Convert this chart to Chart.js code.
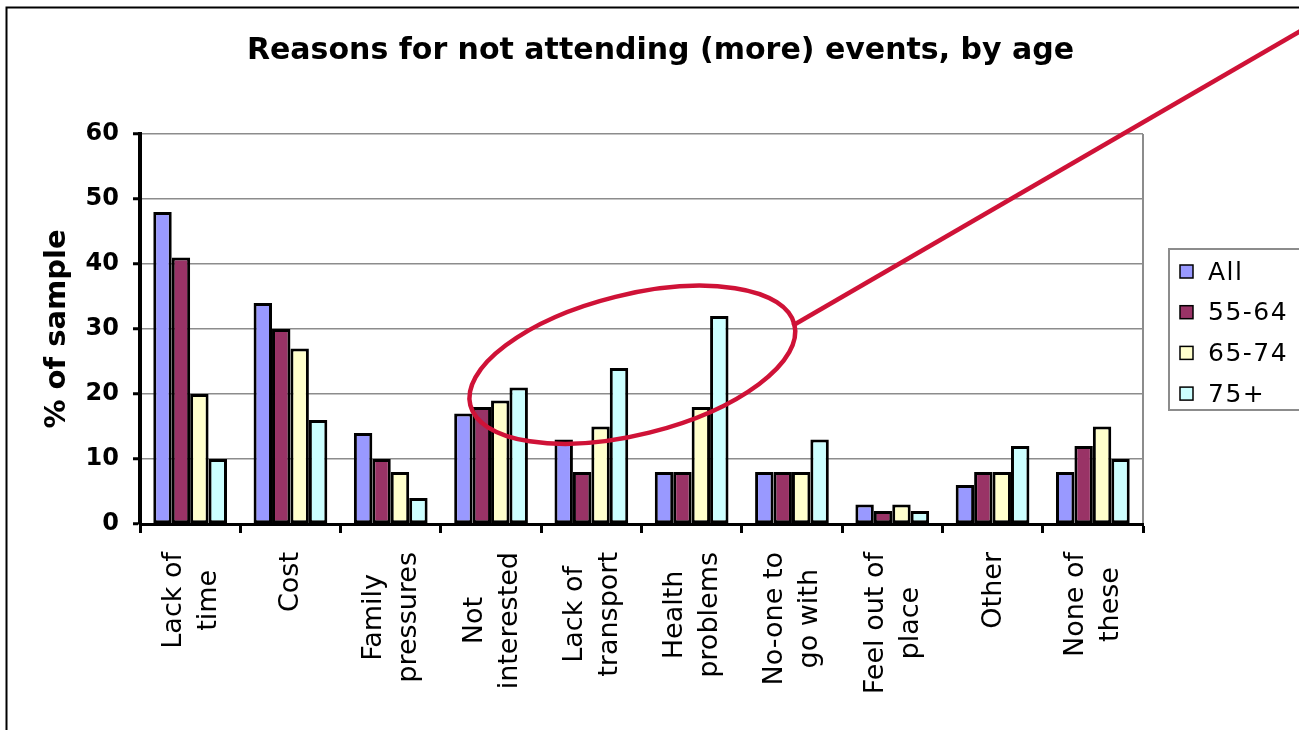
<!DOCTYPE html>
<html>
<head>
<meta charset="utf-8">
<title>Reasons for not attending (more) events, by age</title>
<script src="https://cdn.jsdelivr.net/npm/chart.js@4.4.1/dist/chart.umd.min.js"></script>
<style>
  html, body { margin: 0; padding: 0; background: #fff; }
  #wrap { width: 1299px; height: 730px; overflow: hidden; }
</style>
</head>
<body>
<div id="wrap"><canvas id="chart" width="1299" height="730"></canvas></div>
<script>
// categories (split into the lines they are printed on)
const reasons = [
  ['Lack of', 'time'], ['Cost'], ['Family', 'pressures'], ['Not', 'interested'],
  ['Lack of', 'transport'], ['Health', 'problems'], ['No-one to', 'go with'],
  ['Feel out of', 'place'], ['Other'], ['None of', 'these']
];
const ageGroups = ['All', '55-64', '65-74', '75+'];

// % of sample per reason
const allAges   = [48, 34, 14, 17, 13, 8, 8, 3, 6, 8];
const age55to64 = [41, 30, 10, 18, 8, 8, 8, 2, 8, 12];
const age65to74 = [20, 27, 8, 19, 15, 18, 8, 3, 8, 15];
const age75plus = [10, 16, 4, 21, 24, 32, 13, 2, 12, 10];

const yTicks = [0, 10, 20, 30, 40, 50, 60];
const groupColors = ['#9999ff', '#993366', '#ffffcc', '#ccffff'];

const chartTitle = 'Reasons for not attending (more) events, by age';
const FONT = '"DejaVu Sans", Verdana, sans-serif';
const RED = '#cf1237';

const series = [allAges, age55to64, age65to74, age75plus];

// extra drawing: plot frame, category labels, legend, the red highlight
const extras = {
  id: 'extras',
  beforeDatasetsDraw(chart) {
    const ctx = chart.ctx, a = chart.chartArea;
    ctx.save();
    ctx.strokeStyle = '#8c8c8c';
    ctx.lineWidth = 2;
    ctx.beginPath();
    ctx.moveTo(a.right, a.top);
    ctx.lineTo(a.right, a.bottom);
    ctx.stroke();
    ctx.restore();
  },
  afterDraw(chart) {
    const ctx = chart.ctx;
    const xs = chart.scales.x, ys = chart.scales.y;

    // outer chart border (top and left edges)
    ctx.save();
    ctx.strokeStyle = '#000';
    ctx.lineWidth = 2;
    ctx.strokeRect(6.5, 7.5, 1400, 1000);
    ctx.restore();

    // rotated category labels, lines centred on each other
    ctx.save();
    ctx.fillStyle = '#000';
    ctx.font = '27px ' + FONT;
    ctx.textAlign = 'center';
    ctx.textBaseline = 'middle';
    reasons.forEach((lines, i) => {
      const x = xs.getPixelForValue(i) + 1;
      const w = Math.max(...lines.map(l => ctx.measureText(l).width));
      const top = xs.top + 28;
      ctx.save();
      ctx.translate(x, top + w / 2);
      ctx.rotate(-Math.PI / 2);
      lines.forEach((l, j) => ctx.fillText(l, 0, (j - (lines.length - 1) / 2) * 35));
      ctx.restore();
    });
    ctx.restore();

    // legend
    ctx.save();
    ctx.strokeStyle = '#8c8c8c';
    ctx.lineWidth = 2;
    ctx.strokeRect(1169, 249, 200, 161);
    ctx.font = '25px ' + FONT;
    ctx.textBaseline = 'middle';
    ctx.textAlign = 'left';
    if ('letterSpacing' in ctx) ctx.letterSpacing = '1.5px';
    chart.data.datasets.forEach((ds, i) => {
      const cy = 272 + i * 40.7;
      ctx.fillStyle = ds.backgroundColor;
      ctx.fillRect(1180, cy - 7, 13, 13);
      ctx.strokeStyle = '#000';
      ctx.lineWidth = 1.5;
      ctx.strokeRect(1180, cy - 7, 13, 13);
      ctx.fillStyle = '#000';
      ctx.fillText(ds.label, 1208, cy + 1);
    });
    ctx.restore();

    // red ellipse round the transport / health groups, with a pointer line
    const cx = xs.getPixelForValue(4) + 41;
    const cy = ys.getPixelForValue(24.5);
    ctx.save();
    ctx.strokeStyle = RED;
    ctx.lineWidth = 4.5;
    ctx.beginPath();
    ctx.ellipse(cx, cy, 167, 70, -14 * Math.PI / 180, 0, Math.PI * 2);
    ctx.stroke();
    ctx.beginPath();
    ctx.moveTo(cx + 160, cy - 39);
    ctx.lineTo(cx + 160 + 530, cy - 39 - 530 * 0.58);
    ctx.stroke();
    ctx.restore();
  }
};

new Chart(document.getElementById('chart').getContext('2d'), {
  type: 'bar',
  data: {
    labels: reasons,
    datasets: ageGroups.map((g, i) => ({
      label: g,
      data: series[i],
      backgroundColor: groupColors[i],
      borderColor: '#000',
      borderWidth: 3,
      borderSkipped: false,
      categoryPercentage: 0.735,
      barPercentage: 1
    }))
  },
  options: {
    responsive: false,
    animation: false,
    layout: { padding: { left: 22, right: 0, top: 0, bottom: 0 } },
    plugins: {
      legend: { display: false },
      tooltip: { enabled: false },
      title: {
        display: true,
        text: chartTitle,
        color: '#000',
        font: { family: FONT, size: 30, weight: 'bold' },
        padding: { top: 33, bottom: 65 }
      }
    },
    scales: {
      x: {
        grid: { offset: true, drawOnChartArea: false, drawTicks: true, tickLength: 9, tickColor: '#000', tickWidth: 3 },
        border: { color: '#000', width: 3, z: 1 },
        ticks: { display: false },
        afterFit(s) { s.height = 730 - 524; }
      },
      y: {
        min: 0,
        max: 60,
        afterBuildTicks(s) { s.ticks = yTicks.map(v => ({ value: v })); },
        ticks: { color: '#000', padding: 14, font: { family: FONT, size: 24, weight: 'bold' } },
        grid: { color: '#8c8c8c', lineWidth: 1.5, tickLength: 7, tickColor: '#000', tickWidth: 3 },
        border: { color: '#000', width: 4, z: 1 },
        title: {
          display: true,
          text: '% of sample',
          color: '#000',
          font: { family: FONT, size: 29, weight: 'bold' },
          padding: { top: 18, bottom: 0 }
        },
        afterFit(s) { s.width = 140 - 22; }
      },
      // empty right-hand axis that keeps room for the legend
      legendSpace: {
        position: 'right',
        display: true,
        grid: { display: false },
        border: { display: false },
        ticks: { display: false },
        afterFit(s) { s.width = 156; }
      }
    }
  },
  plugins: [extras]
});
</script>
</body>
</html>
